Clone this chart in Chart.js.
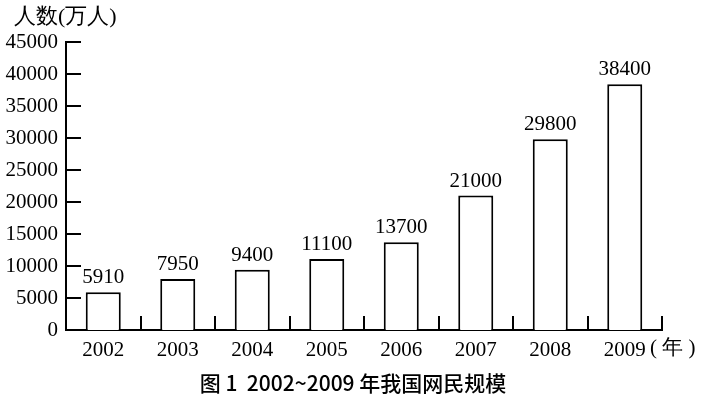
<!DOCTYPE html>
<html>
<head>
<meta charset="utf-8">
<script src="https://cdn.jsdelivr.net/npm/chart.js@4"></script>
<style>
  body { margin: 0; background: #fff; }
  canvas { display: block; }
</style>
</head>
<body>
<canvas id="myChart" width="708" height="396"></canvas>
<script>
const years = ['2002', '2003', '2004', '2005', '2006', '2007', '2008', '2009'];
const netizens = [5910, 7950, 9400, 11100, 13700, 21000, 29800, 38400];
const yTitle = '人数(万人)';
const xUnit = '( 年 )';
const caption = '图 1  2002~2009 年我国网民规模';

const serifFont = 'Liberation Serif';
const cjkFont = 'Noto Sans CJK SC';

// labels on top of bars, inner tick marks and the loose text
const extras = {
  id: 'extras',
  afterDraw(chart) {
    const ctx = chart.ctx;
    const xs = chart.scales.x, ys = chart.scales.y;
    const area = chart.chartArea;
    ctx.save();
    ctx.strokeStyle = '#000';
    ctx.lineWidth = 2;
    ctx.beginPath();
    ys.ticks.forEach(t => {
      const y = Math.round(ys.getPixelForValue(t.value));
      if (t.value === 0) return;
      ctx.moveTo(area.left, y);
      ctx.lineTo(area.left + 15, y);
    });
    for (let i = 1; i <= years.length; i++) {
      let x;
      if (i < years.length) x = (xs.getPixelForTick(i - 1) + xs.getPixelForTick(i)) / 2;
      else x = area.right;
      x = Math.round(x);
      ctx.moveTo(x, area.bottom);
      ctx.lineTo(x, area.bottom - 14);
    }
    ctx.stroke();

    ctx.fillStyle = '#000';
    ctx.font = '21px ' + serifFont;
    ctx.textAlign = 'center';
    ctx.textBaseline = 'bottom';
    chart.getDatasetMeta(0).data.forEach((bar, i) => {
      ctx.fillText(String(netizens[i]), bar.x, bar.y - 4);
    });

    ctx.textAlign = 'left';
    ctx.textBaseline = 'middle';
    ctx.font = '22px ' + serifFont;
    ctx.fillText(yTitle, 14, 17);
    ctx.font = '21px ' + serifFont;
    ctx.fillText(xUnit, 650, 348);

    ctx.font = '500 21px ' + cjkFont;
    ctx.textAlign = 'center';
    ctx.fillText(caption, 353, 383);
    ctx.restore();
  }
};

new Chart(document.getElementById('myChart'), {
  type: 'bar',
  data: {
    labels: years,
    datasets: [{
      data: netizens,
      backgroundColor: '#fff',
      borderColor: '#000',
      borderWidth: 2,
      barPercentage: 0.47,
      categoryPercentage: 1
    }]
  },
  options: {
    responsive: false,
    animation: false,
    devicePixelRatio: 1,
    layout: { padding: { top: 42, right: 46, bottom: 0, left: 0 } },
    plugins: { legend: { display: false }, tooltip: { enabled: false } },
    scales: {
      x: {
        afterFit(scale) { scale.height = 66; },
        grid: { display: false, drawTicks: false },
        border: { color: '#000', width: 2 },
        ticks: { color: '#000', font: { size: 21, family: serifFont }, padding: 8, maxRotation: 0 }
      },
      y: {
        min: 0,
        max: 45000,
        afterFit(scale) { scale.width = 66; },
        grid: { display: false, drawTicks: false },
        border: { color: '#000', width: 2 },
        ticks: {
          stepSize: 5000, color: '#000', font: { size: 21, family: serifFont }, padding: 8,
          callback: v => String(v)
        }
      }
    }
  },
  plugins: [extras]
});
</script>
</body>
</html>
